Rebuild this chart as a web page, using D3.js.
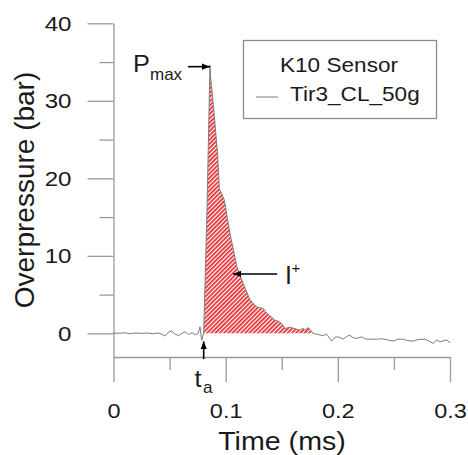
<!DOCTYPE html>
<html>
<head>
<meta charset="utf-8">
<script src="https://cdn.jsdelivr.net/npm/d3@7"></script>
<style>
  html, body { margin: 0; padding: 0; background: #fff; }
  svg { display: block; font-family: "Liberation Sans", Arial, sans-serif; }
  text { fill: #1a1a1a; }
</style>
</head>
<body>
<svg id="chart" width="468" height="455"></svg>
<script>
// ---- data ----
const time = [
  0, 0.005, 0.01, 0.015, 0.02, 0.025, 0.03, 0.035, 0.04, 0.043, 0.046, 0.049, 0.052, 0.055,
  0.058, 0.061, 0.064, 0.067, 0.07, 0.073, 0.0755, 0.0771, 0.0786, 0.0797, 0.0804, 0.0833,
  0.0860, 0.0866, 0.089, 0.0929, 0.0943, 0.0988, 0.1038, 0.110, 0.1157, 0.1217, 0.1276,
  0.1335, 0.1366, 0.144, 0.148, 0.1513, 0.153, 0.157, 0.1618, 0.1662, 0.169, 0.1707, 0.1736,
  0.178, 0.1823, 0.187, 0.190, 0.1945, 0.1974, 0.2004, 0.2048, 0.2078, 0.2108, 0.2134,
  0.2168, 0.2212, 0.225, 0.2286, 0.2346, 0.2393, 0.2447, 0.2494, 0.2536, 0.2583, 0.2625,
  0.2672, 0.2714, 0.2776, 0.2812, 0.285, 0.2883, 0.291, 0.297, 0.300
];
const pressure = [
  0.05, 0.0, 0.08, -0.05, 0.05, 0.0, 0.05, -0.05, 0.05, -0.1, -0.35, 0.15, 0.3, -0.1,
  -0.3, 0.0, 0.2, -0.15, 0.1, -0.2, 0.0, 0.85, -0.9, -0.3, 0.0, 15.5,
  34.6, 33.0, 29.5, 23.0, 18.7, 17.2, 12.9, 8.6, 6.4, 4.3, 3.4,
  3.2, 2.6, 1.7, 1.5, 1.05, 0.6, 0.8, 0.6, 0.4, 0.65, 0.4, 0.75,
  0.0, -0.15, -0.3, -0.1, -1.0, -0.5, -0.45, -0.75, -0.4, -0.25, -0.55,
  -0.65, -0.45, -0.75, -0.75, -0.75, -0.7, -0.85, -1.0, -0.75, -0.75, -0.95,
  -1.0, -0.8, -0.75, -1.0, -1.3, -0.85, -1.1, -0.85, -1.2
];
const xTicks = [0, 0.1, 0.2, 0.3];
const xTickLabels = ["0", "0.1", "0.2", "0.3"];
const xMinorTicks = [0.05, 0.15, 0.25];
const yTicks = [0, 10, 20, 30, 40];
const yTickLabels = ["0", "10", "20", "30", "40"];
const yMinorTicks = [5, 15, 25, 35];
const xDomain = [0, 0.3];
const yDomain = [-3.05, 40];
const legendTitle = "K10 Sensor";
const seriesName = "Tir3_CL_50g";
const xTitle = "Time (ms)";
const yTitle = "Overpressure (bar)";
const arrivalTime = 0.0804;   // t_a
const impulseEnd = 0.178;     // end of positive phase
const impulseLabelPoint = [0.1067, 7.66];

// ---- drawing ----
const svg = d3.select("#chart");
const x = d3.scaleLinear().domain(xDomain).range([113.5, 450]);
const y = d3.scaleLinear().domain(yDomain).range([357, 23.3]);
const axisColor = "#9a9a9a";

function stretch(sel, s, origin) {
  sel.style("transform-box", "fill-box")
     .style("transform-origin", origin)
     .style("transform", `scaleX(${s})`);
}

// hatch pattern
const defs = svg.append("defs");
const pat = defs.append("pattern")
  .attr("id", "hatch").attr("patternUnits", "userSpaceOnUse")
  .attr("width", 3).attr("height", 10)
  .attr("patternTransform", "rotate(45)");
pat.append("rect").attr("width", 3).attr("height", 10).attr("fill", "#ffffff");
pat.append("rect").attr("width", 1.7).attr("height", 10).attr("fill", "#e8262b");

const marker = defs.append("marker")
  .attr("id", "arrow").attr("viewBox", "0 0 10 10")
  .attr("refX", 10).attr("refY", 5)
  .attr("markerWidth", 5).attr("markerHeight", 5)
  .attr("markerUnits", "strokeWidth")
  .attr("orient", "auto");
marker.append("path").attr("d", "M0,1 L10,5 L0,9 Z").attr("fill", "#000");

const data = time.map((t, i) => ({ t, v: pressure[i] }));

// impulse area
const areaData = data.filter(d => d.t >= arrivalTime && d.t <= impulseEnd);
svg.append("path")
  .datum(areaData)
  .attr("fill", "url(#hatch)")
  .attr("d", d3.area().x(d => x(d.t)).y0(y(0)).y1(d => y(Math.max(0, d.v))));

// axes
const yAxis = svg.append("g").attr("transform", `translate(${x(0)},0)`)
  .call(d3.axisLeft(y).tickValues(yTicks).tickSize(26).tickSizeOuter(0)
    .tickPadding(16).tickFormat((d, i) => yTickLabels[i]));
const yMinor = svg.append("g").attr("transform", `translate(${x(0)},0)`)
  .call(d3.axisLeft(y).tickValues(yMinorTicks).tickSize(14).tickSizeOuter(0).tickFormat(""));
const xAxis = svg.append("g").attr("transform", `translate(0,${y(yDomain[0])})`)
  .call(d3.axisBottom(x).tickValues(xTicks).tickSize(25).tickSizeOuter(0)
    .tickPadding(21).tickFormat((d, i) => xTickLabels[i]));
const xMinor = svg.append("g").attr("transform", `translate(0,${y(yDomain[0])})`)
  .call(d3.axisBottom(x).tickValues(xMinorTicks).tickSize(13).tickSizeOuter(0).tickFormat(""));
yMinor.select(".domain").remove();
xMinor.select(".domain").remove();

[yAxis, yMinor, xAxis, xMinor].forEach(g => {
  g.selectAll("path, line").attr("stroke", axisColor).attr("stroke-width", 1.3);
  g.selectAll("text").attr("font-size", 21).attr("fill", "#1a1a1a")
    .attr("font-family", '"Liberation Sans", Arial, sans-serif');
});
stretch(yAxis.selectAll("text"), 1.15, "right center");
stretch(xAxis.selectAll("text"), 1.12, "center");

// series line
svg.append("path")
  .datum(data)
  .attr("fill", "none")
  .attr("stroke", "#7c7c7c")
  .attr("stroke-width", 1)
  .attr("d", d3.line().x(d => x(d.t)).y(d => y(d.v)));

// axis titles
const xt = svg.append("text").attr("x", 282).attr("y", 450)
  .attr("text-anchor", "middle").attr("font-size", 26).text(xTitle);
stretch(xt, 1.1, "center");
svg.append("text")
  .attr("transform", "translate(34,190) rotate(-90)")
  .attr("text-anchor", "middle").attr("font-size", 28).text(yTitle);

// legend
svg.append("rect").attr("x", 243.5).attr("y", 40.5).attr("width", 193).attr("height", 78)
  .attr("fill", "#fff").attr("stroke", "#8c8c8c").attr("stroke-width", 1.3);
const lt = svg.append("text").attr("x", 339).attr("y", 72)
  .attr("text-anchor", "middle").attr("font-size", 20).text(legendTitle);
stretch(lt, 1.13, "center");
svg.append("line").attr("x1", 256).attr("x2", 278).attr("y1", 97).attr("y2", 97)
  .attr("stroke", "#7c7c7c").attr("stroke-width", 1);
const ls = svg.append("text").attr("x", 290).attr("y", 101)
  .attr("font-size", 20).text(seriesName);
stretch(ls, 1.13, "left center");

// annotations
const peak = data.reduce((a, b) => (b.v > a.v ? b : a));
const px = x(peak.t), py = y(peak.v) + 1.5;
svg.append("line").attr("x1", px - 22).attr("x2", px).attr("y1", py).attr("y2", py)
  .attr("stroke", "#000").attr("stroke-width", 1.6).attr("marker-end", "url(#arrow)");
const pt = svg.append("text").attr("x", 133).attr("y", 72).attr("font-size", 23).text("P");
stretch(pt, 1.1, "left center");
svg.append("text").attr("x", 150).attr("y", 80).attr("font-size", 17).text("max");

const ix = x(impulseLabelPoint[0]), iy = y(impulseLabelPoint[1]);
svg.append("line").attr("x1", ix + 44).attr("x2", ix).attr("y1", iy).attr("y2", iy)
  .attr("stroke", "#000").attr("stroke-width", 1.6).attr("marker-end", "url(#arrow)");
svg.append("text").attr("x", 285).attr("y", 283.5).attr("font-size", 25).text("I");
svg.append("text").attr("x", 291.5).attr("y", 273).attr("font-size", 15).text("+");

const ax = x(arrivalTime);
svg.append("line").attr("x1", ax).attr("x2", ax).attr("y1", 359).attr("y2", y(0) + 8)
  .attr("stroke", "#000").attr("stroke-width", 1.6).attr("marker-end", "url(#arrow)");
const tt = svg.append("text").attr("x", 194.5).attr("y", 387).attr("font-size", 23).text("t");
stretch(tt, 1.1, "left center");
svg.append("text").attr("x", 203).attr("y", 393).attr("font-size", 17).text("a");
</script>
</body>
</html>
